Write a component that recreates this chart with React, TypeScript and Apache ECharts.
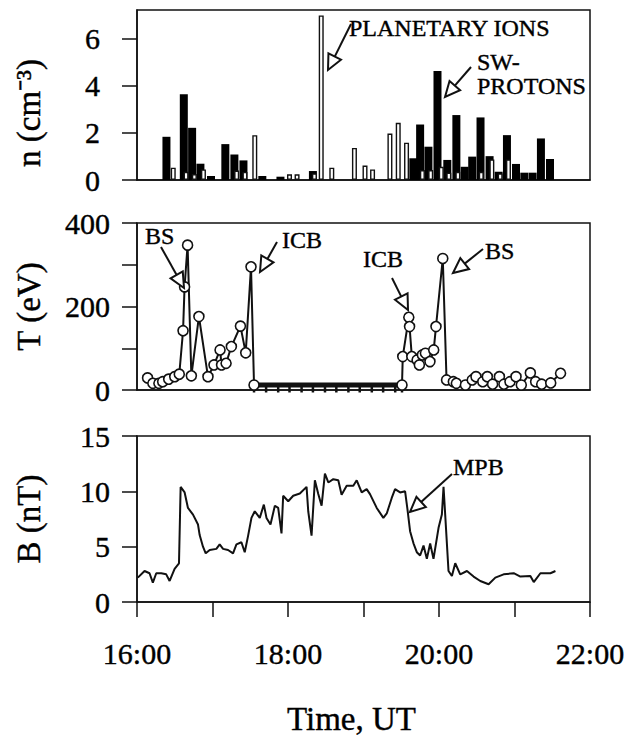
import React, { useEffect, useRef } from 'react';
import * as echarts from 'echarts';

const FONT = '"Liberation Serif", "Times New Roman", serif';

// ---- Panel 1: density n (cm^-3) ----
const protonTimes = [16.39, 16.62, 16.73, 16.84, 16.98, 17.17, 17.29, 17.41, 17.66, 17.9, 18.33, 19.66, 19.75, 19.86, 19.98, 20.11, 20.23, 20.34, 20.44, 20.55, 20.67, 20.79, 20.9, 21.02, 21.13, 21.24, 21.35, 21.47];
const protonDensity = [1.83, 3.63, 2.21, 0.69, 0.17, 1.52, 1.08, 0.83, 0.17, 0.14, 0.38, 0.92, 2.35, 1.41, 4.62, 0.85, 2.75, 0.56, 0.99, 2.65, 1.01, 0.35, 1.9, 0.68, 0.31, 0.31, 1.76, 0.89];
const ionTimes = [16.48, 16.65, 16.76, 16.88, 17.32, 17.43, 17.56, 18.02, 18.12, 18.35, 18.44, 18.58, 18.88, 19.02, 19.12, 19.35, 19.46, 19.57, 19.78, 19.89, 20.03, 20.13, 20.25, 20.56, 20.7, 20.81, 20.92];
const ionDensity = [0.52, 0.35, 0.25, 0.45, 0.4, 0.34, 1.9, 0.24, 0.24, 0.28, 6.97, 0.52, 1.36, 0.61, 0.45, 1.97, 2.42, 1.58, 0.42, 0.42, 0.56, 0.31, 0.35, 0.35, 0.87, 0.28, 0.87];
const nTicks = [0, 2, 4, 6];

// ---- Panel 2: temperature T (eV) ----
const tTimesEarly = [16.14, 16.21, 16.29, 16.34, 16.42, 16.5, 16.56, 16.61, 16.63, 16.67, 16.72, 16.82, 16.94, 17.02, 17.1, 17.12, 17.18, 17.25, 17.37, 17.44, 17.51, 17.55];
const tValuesEarly = [29, 16, 16, 20, 26, 32, 38, 142, 247, 347, 34, 176, 32, 60, 96, 60, 64, 104, 153, 89, 295, 12];
const tTimesFlat = [17.55, 17.71, 17.87, 18.02, 18.18, 18.33, 18.49, 18.64, 18.8, 18.95, 19.11, 19.26, 19.42, 19.51];
const tValuesFlat = [12, 12, 12, 12, 12, 12, 12, 12, 12, 12, 12, 12, 12, 12];
const tTimesLate = [19.51, 19.52, 19.6, 19.61, 19.64, 19.71, 19.74, 19.78, 19.82, 19.88, 19.93, 19.96, 20.05, 20.1, 20.19, 20.23, 20.35, 20.44, 20.49, 20.58, 20.64, 20.71, 20.8, 20.86, 20.94, 21.02, 21.09, 21.21, 21.28, 21.36, 21.48, 21.61];
const tValuesLate = [12, 80, 174, 152, 80, 72, 60, 84, 88, 68, 96, 152, 315, 24, 20, 16, 12, 24, 32, 20, 32, 14, 32, 14, 20, 32, 12, 41, 20, 14, 17, 40];

// ---- Panel 3: magnetic field B (nT) ----
const bTimes = [16.011, 16.1, 16.166, 16.21, 16.255, 16.321, 16.387, 16.432, 16.498, 16.556, 16.578, 16.631, 16.675, 16.742, 16.808, 16.83, 16.874, 16.91, 16.963, 17.051, 17.095, 17.14, 17.206, 17.272, 17.317, 17.383, 17.427, 17.472, 17.516, 17.56, 17.626, 17.68, 17.715, 17.768, 17.826, 17.87, 17.914, 17.936, 18.003, 18.069, 18.157, 18.246, 18.268, 18.312, 18.356, 18.401, 18.445, 18.489, 18.534, 18.6, 18.666, 18.71, 18.777, 18.865, 18.91, 18.976, 19.042, 19.086, 19.175, 19.263, 19.308, 19.374, 19.418, 19.485, 19.551, 19.582, 19.617, 19.662, 19.706, 19.75, 19.795, 19.839, 19.883, 19.927, 19.994, 20.038, 20.06, 20.082, 20.126, 20.171, 20.215, 20.281, 20.37, 20.458, 20.547, 20.657, 20.746, 20.856, 20.989, 21.078, 21.21, 21.255, 21.343, 21.476, 21.542];
const bValues = [2.2, 2.8, 2.6, 1.75, 2.6, 2.6, 2.5, 1.9, 3.0, 3.5, 10.4, 9.9, 8.5, 7.9, 7.0, 6.05, 5.0, 4.4, 4.7, 4.8, 5.2, 4.8, 4.7, 4.4, 5.2, 5.4, 4.5, 6.0, 7.6, 8.2, 7.6, 8.8, 7.6, 7.0, 8.7, 8.5, 6.2, 9.6, 9.1, 9.6, 9.8, 10.4, 8.2, 6.0, 11.0, 9.75, 8.7, 11.6, 10.8, 11.1, 11.0, 9.7, 10.5, 10.5, 11.0, 9.9, 10.2, 9.75, 8.5, 7.6, 8.0, 9.4, 10.2, 9.9, 10.0, 8.4, 6.4, 5.3, 4.5, 4.2, 5.1, 3.9, 5.3, 3.9, 6.7, 7.9, 10.4, 7.9, 2.8, 2.35, 3.5, 2.5, 2.8, 2.3, 1.9, 1.6, 2.2, 2.5, 2.6, 2.3, 2.35, 1.8, 2.6, 2.6, 2.8];

const hourTicks = [16, 18, 20, 22];

const zip = (xs: number[], ys: number[]) => xs.map((x, i) => [x, ys[i]]);

const INK = '#111';

function arrow(x1: number, y1: number, x2: number, y2: number) {
  const dx = x2 - x1;
  const dy = y2 - y1;
  const L = Math.hypot(dx, dy);
  const ux = dx / L;
  const uy = dy / L;
  const headLen = 15;
  const headW = 7;
  const bx = x2 - ux * headLen;
  const by = y2 - uy * headLen;
  const px = -uy;
  const py = ux;
  return [
    { type: 'line', shape: { x1, y1, x2: bx, y2: by }, style: { stroke: INK, lineWidth: 2 }, z: 100 },
    {
      type: 'polygon',
      shape: { points: [[x2, y2], [bx + px * headW, by + py * headW], [bx - px * headW, by - py * headW]] },
      style: { fill: '#fff', stroke: INK, lineWidth: 2 },
      z: 100,
    },
  ];
}

function label(text: string, x: number, y: number) {
  return {
    type: 'text',
    x,
    y,
    z: 100,
    style: {
      text,
      fontSize: 24,
      fontFamily: FONT,
      fill: '#000',
      stroke: '#000',
      lineWidth: 0.4,
      align: 'left',
      verticalAlign: 'middle',
    },
  };
}

export default function App() {
  const ref = useRef<HTMLDivElement>(null);

  useEffect(() => {
    document.body.style.margin = '0';
    if (!ref.current) return;
    const chart = echarts.init(ref.current, null, { renderer: 'svg' });

    const axisLineStyle = { color: INK, width: 1.5 };
    const gridCommon = { left: 137, right: 40, show: true, borderColor: INK, borderWidth: 1.5, containLabel: false };
    const bigText = { fontFamily: FONT, color: '#000', textBorderColor: '#000', textBorderWidth: 0.4 };

    const xBase = (gridIndex: number, show: boolean) => ({
      type: 'value',
      gridIndex,
      min: 16,
      max: 22,
      interval: 1,
      axisLine: { show: true, lineStyle: axisLineStyle },
      axisTick: { show, inside: false, length: 15, lineStyle: axisLineStyle },
      axisLabel: {
        show,
        margin: 36,
        fontSize: 30,
        ...bigText,
        formatter: (v: number) => (hourTicks.includes(v) ? `${v}:00` : ''),
      },
      splitLine: { show: false },
    });

    const yBase = (gridIndex: number, name: string, margin: number) => ({
      type: 'value',
      gridIndex,
      name,
      nameLocation: 'middle',
      nameGap: 92,
      nameRotate: 90,
      nameTextStyle: { fontSize: 33, ...bigText },
      axisLine: { show: true, lineStyle: axisLineStyle },
      axisTick: { show: true, inside: false, length: 15, lineStyle: axisLineStyle },
      axisLabel: { margin, fontSize: 30, ...bigText },
      splitLine: { show: false },
    });

    const tLineStyle = { color: INK, width: 2 };
    const circleStyle = { color: '#fff', borderColor: INK, borderWidth: 1.6 };

    const option = {
      animation: false,
      backgroundColor: '#fff',
      grid: [
        { ...gridCommon, top: 10, height: 170 },
        { ...gridCommon, top: 223, height: 167 },
        { ...gridCommon, top: 436, height: 166 },
      ],
      xAxis: [
        xBase(0, false),
        { ...xBase(0, false), show: false },
        xBase(1, false),
        {
          ...xBase(2, true),
          name: 'Time, UT',
          nameLocation: 'middle',
          nameGap: 100,
          nameTextStyle: { fontSize: 33, ...bigText, padding: [0, 24, 0, 0] },
        },
      ],
      yAxis: [
        {
          ...yBase(0, 'n (cm⁻³)', 37),
          min: 0,
          max: 7.2,
          nameTextStyle: { fontSize: 33, ...bigText, padding: [0, 36, 0, 0] },
          axisTick: { show: true, inside: false, length: 15, lineStyle: axisLineStyle, customValues: nTicks },
          axisLabel: { margin: 37, fontSize: 30, ...bigText, customValues: nTicks },
        },
        {
          ...yBase(1, 'T (eV)', 27),
          min: 0,
          max: 400,
          interval: 100,
          axisLabel: {
            margin: 27,
            fontSize: 30,
            ...bigText,
            formatter: (v: number) => (v % 200 === 0 ? String(v) : ''),
          },
        },
        { ...yBase(2, 'B (nT)', 27), min: 0, max: 15, interval: 5 },
      ],
      series: [
        {
          name: 'SW-protons',
          type: 'bar',
          xAxisIndex: 0,
          yAxisIndex: 0,
          barWidth: 8,
          data: zip(protonTimes, protonDensity),
          itemStyle: { color: '#000' },
          z: 2,
        },
        {
          name: 'Planetary ions',
          type: 'bar',
          xAxisIndex: 1,
          yAxisIndex: 0,
          barWidth: 5,
          data: zip(ionTimes, ionDensity),
          itemStyle: { color: '#fff', borderColor: INK, borderWidth: 1.4 },
          z: 3,
        },
        {
          name: 'T flat',
          type: 'line',
          xAxisIndex: 2,
          yAxisIndex: 1,
          data: zip(tTimesFlat, tValuesFlat),
          lineStyle: { color: INK, width: 5 },
          symbol: 'rect',
          symbolSize: [2.5, 7],
          symbolOffset: [0, 4],
          itemStyle: { color: INK },
          z: 3,
        },
        {
          name: 'T early',
          type: 'line',
          xAxisIndex: 2,
          yAxisIndex: 1,
          data: zip(tTimesEarly, tValuesEarly),
          lineStyle: tLineStyle,
          symbol: 'circle',
          symbolSize: 10,
          itemStyle: circleStyle,
          z: 4,
        },
        {
          name: 'T late',
          type: 'line',
          xAxisIndex: 2,
          yAxisIndex: 1,
          data: zip(tTimesLate, tValuesLate),
          lineStyle: tLineStyle,
          symbol: 'circle',
          symbolSize: 10,
          itemStyle: circleStyle,
          z: 4,
        },
        {
          name: 'B',
          type: 'line',
          xAxisIndex: 3,
          yAxisIndex: 2,
          data: zip(bTimes, bValues),
          lineStyle: { color: INK, width: 2 },
          symbol: 'none',
          z: 3,
        },
      ],
      graphic: [
        label('PLANETARY IONS', 349, 28),
        ...arrow(351, 24, 328, 70),
        label('SW-', 477, 62),
        label('PROTONS', 477, 86),
        ...arrow(471, 67, 445, 97),
        label('BS', 145, 236),
        ...arrow(161, 247, 184, 288),
        label('ICB', 282, 240),
        ...arrow(277, 242, 260, 272),
        label('ICB', 363, 259),
        ...arrow(392, 278, 408, 310),
        label('BS', 485, 251),
        ...arrow(483, 249, 453, 273),
        label('MPB', 453, 467),
        ...arrow(452, 474, 410, 512),
      ],
    };

    chart.setOption(option as any);
    return () => chart.dispose();
  }, []);

  return <div ref={ref} style={{ width: 630, height: 740 }} />;
}
